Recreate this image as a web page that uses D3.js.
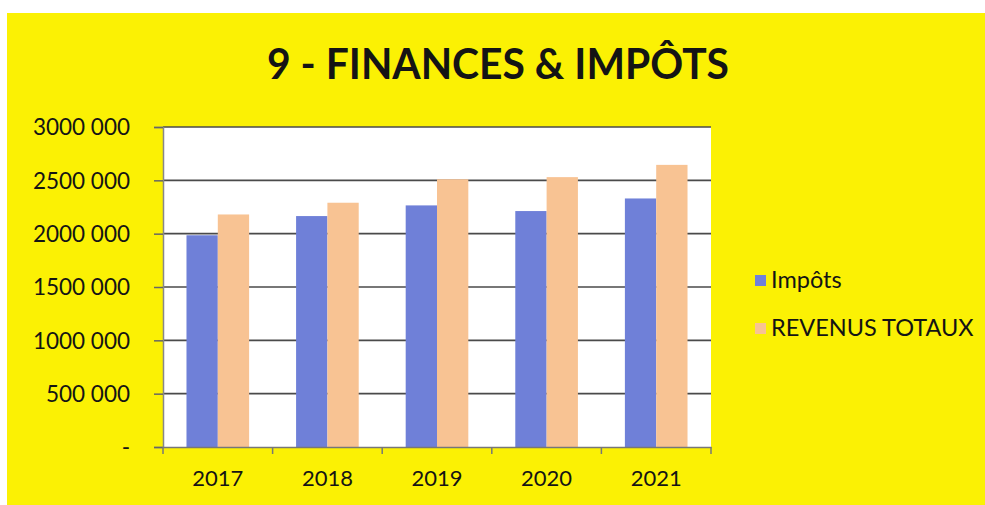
<!DOCTYPE html>
<html>
<head>
<meta charset="utf-8">
<script src="https://cdn.jsdelivr.net/npm/d3@7"></script>
<style>
  html, body { margin: 0; padding: 0; background: #ffffff; }
  svg { display: block; }
  text { font-family: Lato, "Open Sans", sans-serif; fill: #141414; }
</style>
</head>
<body>
<svg id="chart" width="985" height="505"></svg>
<script>
const title = "9 - FINANCES & IMPÔTS";
const categories = ["2017", "2018", "2019", "2020", "2021"];
const seriesNames = ["Impôts", "REVENUS TOTAUX"];
const impots = [1985000, 2165000, 2265000, 2212000, 2330000];
const revenusTotaux = [2180000, 2290000, 2510000, 2530000, 2645000];
const yTickValues = [0, 500000, 1000000, 1500000, 2000000, 2500000, 3000000];
const yTickLabels = ["-", "500 000", "1000 000", "1500 000", "2000 000", "2500 000", "3000 000"];
const seriesColors = ["#6f80d8", "#f8c393"];

const svg = d3.select("#chart");
const W = 985, H = 505;

// yellow background panel
svg.append("rect").attr("x", 7).attr("y", 13).attr("width", W - 7).attr("height", H - 13)
  .attr("fill", "#fbf104");

const plot = { left: 163, right: 711, top: 127, bottom: 447 };

// title
svg.append("text")
  .attr("x", 498).attr("y", 79)
  .attr("text-anchor", "middle")
  .attr("font-size", 42).attr("font-weight", 700)
  .attr("textLength", 462).attr("lengthAdjust", "spacingAndGlyphs")
  .text(title);

// plot area
svg.append("rect").attr("x", plot.left).attr("y", plot.top)
  .attr("width", plot.right - plot.left).attr("height", plot.bottom - plot.top)
  .attr("fill", "#ffffff");

const x0 = d3.scaleBand().domain(categories).range([plot.left, plot.right]).paddingInner(0).paddingOuter(0);
const barW = x0.bandwidth() / 3.5;
const x1 = d3.scaleBand().domain(seriesNames)
  .range([x0.bandwidth() * 0.75 / 3.5, x0.bandwidth() * 0.75 / 3.5 + 2 * barW]);
const y = d3.scaleLinear().domain([0, 3000000]).range([plot.bottom, plot.top]);

// gridlines
svg.append("g").selectAll("line").data(yTickValues.filter(v => v > 0)).join("line")
  .attr("x1", plot.left).attr("x2", plot.right)
  .attr("y1", d => y(d)).attr("y2", d => y(d))
  .attr("stroke", "#4a4a4a").attr("stroke-width", 1.6);

// bars
const data = categories.map((c, i) => ({ cat: c, vals: [impots[i], revenusTotaux[i]] }));
const groups = svg.append("g").selectAll("g").data(data).join("g")
  .attr("transform", d => `translate(${x0(d.cat)},0)`);
groups.selectAll("rect").data(d => d.vals.map((v, j) => ({ name: seriesNames[j], v, j }))).join("rect")
  .attr("x", d => x1(d.name))
  .attr("width", x1.bandwidth())
  .attr("y", d => y(d.v))
  .attr("height", d => y(0) - y(d.v))
  .attr("fill", d => seriesColors[d.j]);

// y axis
const yAxis = d3.axisLeft(y).tickValues(yTickValues)
  .tickFormat((d, i) => yTickLabels[i]).tickSize(9).tickPadding(24);
const gy = svg.append("g").attr("transform", `translate(${plot.left},0)`).call(yAxis);
gy.select(".domain").attr("stroke", "#888").attr("stroke-width", 1.5);
gy.selectAll(".tick line").attr("stroke", "#666").attr("stroke-width", 1.5);
gy.selectAll(".tick text").attr("font-size", 22.5).attr("font-family", "Lato").attr("fill", "#141414")
  .attr("dy", "0.35em");

// x axis
const xAxis = d3.axisBottom(x0).tickSize(0).tickPadding(0);
const gx = svg.append("g").attr("transform", `translate(0,${plot.bottom})`).call(xAxis);
gx.select(".domain").attr("stroke", "#777").attr("stroke-width", 1.5);
gx.selectAll(".tick text").attr("font-size", 22).attr("font-family", "Lato").attr("fill", "#141414")
  .attr("y", 39).attr("dy", 0);
// category boundary ticks
const bounds = categories.map(c => x0(c)).concat([x0(categories[categories.length - 1]) + x0.bandwidth()]);
svg.append("g").selectAll("line").data(bounds).join("line")
  .attr("x1", d => d).attr("x2", d => d)
  .attr("y1", plot.bottom).attr("y2", plot.bottom + 7)
  .attr("stroke", "#777").attr("stroke-width", 1.5);

// legend
const legend = svg.append("g").attr("transform", "translate(755,280)");
const li = legend.selectAll("g").data(seriesNames).join("g")
  .attr("transform", (d, i) => `translate(0,${i * 48})`);
li.append("rect").attr("x", 0).attr("y", -5).attr("width", 11).attr("height", 11)
  .attr("fill", (d, i) => seriesColors[i]);
li.append("text").attr("x", 16).attr("y", 0).attr("dy", "0.36em")
  .attr("font-size", 23.5).text(d => d);
</script>
</body>
</html>
